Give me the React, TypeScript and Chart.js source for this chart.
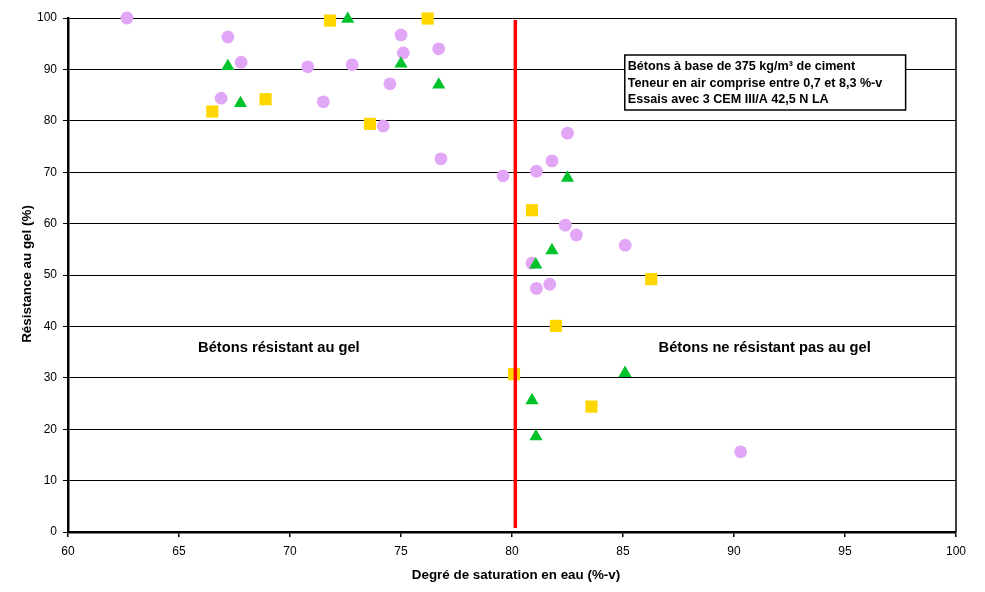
import { useEffect, useRef } from 'react';
import { Chart, registerables } from 'chart.js';

Chart.register(...registerables);

// Violet circles
const circleX = [62.66, 67.2, 67.8, 70.8, 72.8, 75.0, 75.1, 76.7, 74.5, 66.9, 71.5, 74.2, 76.8, 79.6, 81.1, 81.8, 82.5, 82.4, 82.9, 85.1, 80.9, 81.1, 81.7, 90.3];
const circleY = [100, 96.3, 91.4, 90.5, 90.9, 96.7, 93.2, 94.0, 87.2, 84.4, 83.7, 79.0, 72.6, 69.3, 70.2, 72.2, 77.6, 59.7, 57.8, 55.8, 52.3, 47.4, 48.2, 15.6];

// Green triangles
const triX = [67.2, 67.77, 72.6, 75.0, 76.7, 82.5, 81.8, 81.07, 85.09, 80.9, 81.08];
const triY = [90.6, 83.4, 99.8, 91.1, 87.0, 68.9, 54.8, 52.0, 30.9, 25.6, 18.6];

// Yellow squares
const sqX = [71.8, 76.2, 66.5, 68.9, 73.6, 80.9, 86.27, 81.98, 80.09, 83.58];
const sqY = [99.5, 99.9, 81.8, 84.2, 79.4, 62.6, 49.2, 40.1, 30.7, 24.4];

// Limit line (red)
const limitX = [80.15, 80.15];
const limitY = [0.8, 99.6];

const xTicks = [60, 65, 70, 75, 80, 85, 90, 95, 100];
const yTicks = [0, 10, 20, 30, 40, 50, 60, 70, 80, 90, 100];

const xTitle = 'Degré de saturation en eau (%-v)';
const yTitle = 'Résistance au gel (%)';
const infoLines = [
  'Bétons à base de 375 kg/m³ de ciment',
  'Teneur en air comprise entre 0,7 et 8,3 %-v',
  'Essais avec 3 CEM III/A 42,5 N LA',
];
const leftLabel = 'Bétons résistant au gel';
const rightLabel = 'Bétons ne résistant pas au gel';

const FONT = '"Liberation Sans", Arial, sans-serif';

const toPts = (xs: number[], ys: number[]) => xs.map((x, i) => ({ x, y: ys[i] }));

const decorPlugin = {
  id: 'decor',
  beforeDraw(chart: any) {
    const ctx = chart.ctx;
    ctx.save();
    ctx.fillStyle = '#ffffff';
    ctx.fillRect(0, 0, chart.width, chart.height);
    ctx.restore();
  },
  afterDatasetsDraw(chart: any) {
    const ctx = chart.ctx;
    const { left, right, top, bottom } = chart.chartArea;
    const xs = chart.scales.x;
    const ys = chart.scales.y;
    ctx.save();
    // right border
    ctx.strokeStyle = '#000';
    ctx.lineWidth = 1.5;
    ctx.beginPath();
    ctx.moveTo(right, top);
    ctx.lineTo(right, bottom);
    ctx.stroke();

    // info box
    const bx1 = xs.getPixelForValue(85.08);
    const bx2 = xs.getPixelForValue(97.73);
    const by1 = ys.getPixelForValue(92.8);
    const by2 = ys.getPixelForValue(82.1);
    ctx.fillStyle = '#fff';
    ctx.fillRect(bx1, by1, bx2 - bx1, by2 - by1);
    ctx.lineWidth = 1.5;
    ctx.strokeRect(bx1, by1, bx2 - bx1, by2 - by1);
    ctx.fillStyle = '#000';
    ctx.font = `bold 12.6px ${FONT}`;
    ctx.textAlign = 'left';
    ctx.textBaseline = 'middle';
    infoLines.forEach((t, i) => {
      ctx.fillText(t, bx1 + 3, by1 + 11.5 + i * 16.7);
    });

    // region labels
    ctx.font = `bold 14.7px ${FONT}`;
    ctx.textAlign = 'center';
    ctx.fillText(leftLabel, xs.getPixelForValue(69.5), ys.getPixelForValue(35.9));
    ctx.fillText(rightLabel, xs.getPixelForValue(91.38), ys.getPixelForValue(35.9));

    // axis titles
    ctx.font = `bold 13.4px ${FONT}`;
    ctx.fillText(xTitle, 516, 575);
    ctx.translate(27, 274);
    ctx.rotate(-Math.PI / 2);
    ctx.fillText(yTitle, 0, 0);
    ctx.restore();
  },
};

export default function App() {
  const ref = useRef<HTMLCanvasElement | null>(null);
  useEffect(() => {
    document.body.style.margin = '0';
    const canvas = ref.current;
    if (!canvas) return;
    const chart = new Chart(canvas, {
      type: 'scatter',
      data: {
        datasets: [
          {
            label: 'limit',
            data: toPts(limitX, limitY),
            showLine: true,
            borderColor: '#ff0000',
            borderWidth: 3.5,
            pointRadius: 0,
            order: 0,
            clip: false,
          } as any,
          {
            label: 'squares',
            data: toPts(sqX, sqY),
            pointStyle: 'rect',
            pointRadius: 8.6,
            backgroundColor: '#ffd700',
            borderColor: '#ffd700',
            borderWidth: 0,
            order: 1,
            clip: false,
          },
          {
            label: 'triangles',
            data: toPts(triX, triY),
            pointStyle: 'triangle',
            pointRadius: 7.6,
            backgroundColor: '#00c32b',
            borderColor: '#00c32b',
            borderWidth: 0,
            order: 2,
            clip: false,
          },
          {
            label: 'circles',
            data: toPts(circleX, circleY),
            pointStyle: 'circle',
            pointRadius: 6.4,
            backgroundColor: '#e2a6f6',
            borderColor: '#e2a6f6',
            borderWidth: 0,
            order: 3,
            clip: false,
          },
        ],
      },
      options: {
        animation: false,
        responsive: false,
        maintainAspectRatio: false,
        devicePixelRatio: 1,
        layout: { padding: { left: 0, right: 29, top: 18, bottom: 0 } },
        plugins: {
          legend: { display: false },
          tooltip: { enabled: false },
        },
        events: [],
        scales: {
          x: {
            type: 'linear',
            min: 60,
            max: 100,
            afterBuildTicks: (scale: any) => {
              scale.ticks = xTicks.map((v) => ({ value: v }));
            },
            afterFit: (scale: any) => {
              scale.height = 60;
            },
            grid: {
              drawOnChartArea: false,
              drawTicks: true,
              tickLength: 5,
              color: '#000',
              lineWidth: 1.5,
            },
            border: { display: true, color: '#000', width: 2.5 },
            ticks: {
              color: '#000',
              font: { family: FONT, size: 12 },
              padding: 7,
              maxRotation: 0,
            },
          },
          y: {
            type: 'linear',
            min: 0,
            max: 100,
            afterBuildTicks: (scale: any) => {
              scale.ticks = yTicks.map((v) => ({ value: v }));
            },
            afterFit: (scale: any) => {
              scale.width = 68;
            },
            grid: {
              drawOnChartArea: true,
              drawTicks: true,
              tickLength: 5,
              color: '#000',
              lineWidth: 1,
            },
            border: { display: true, color: '#000', width: 2.5 },
            ticks: {
              color: '#000',
              font: { family: FONT, size: 12 },
              padding: 6,
            },
          },
        },
      },
      plugins: [decorPlugin],
    });
    return () => chart.destroy();
  }, []);
  return (
    <div style={{ width: 985, height: 592 }}>
      <canvas ref={ref} width={985} height={592} style={{ display: 'block', width: 985, height: 592 }} />
    </div>
  );
}
